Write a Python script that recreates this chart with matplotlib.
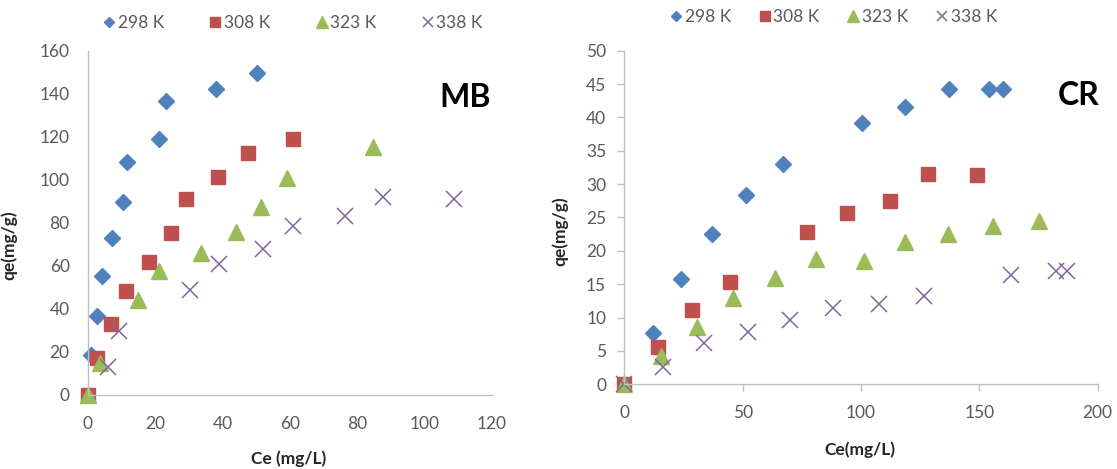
import matplotlib.pyplot as plt
import numpy as np

plt.rcParams['font.family'] = ['Lato', 'DejaVu Sans']

temps = ["298 K", "308 K", "323 K", "338 K"]
colors = ["#4F81BD", "#C0504D", "#9BBB59", "#8064A2"]
markers = ["D", "s", "^", "x"]
sizes = [8.0, 10.5, 11.5, 11.0]

# MB isotherms (Ce, qe)
mb_ce_298 = [0.9, 2.9, 4.3, 7.1, 10.4, 11.8, 21.2, 23.2, 38.0, 50.4]
mb_qe_298 = [18.6, 36.9, 55.5, 72.9, 89.9, 108.2, 118.9, 136.7, 142.2, 149.9]
mb_ce_308 = [0, 2.7, 6.8, 11.4, 18.3, 24.7, 29.2, 38.6, 47.5, 60.9]
mb_qe_308 = [0, 17.1, 32.9, 48.5, 62.0, 75.5, 91.0, 101.5, 112.7, 118.9]
mb_ce_323 = [0, 3.6, 14.8, 21.3, 33.6, 44.0, 51.4, 59.1, 84.8]
mb_qe_323 = [0, 14.7, 44.2, 57.8, 66.2, 76.0, 87.6, 100.8, 115.5]
mb_ce_338 = [6.1, 9.3, 30.4, 39.1, 52.0, 61.1, 76.4, 87.8, 108.8]
mb_qe_338 = [12.9, 29.9, 48.8, 60.8, 67.8, 78.6, 83.4, 92.2, 91.2]

# CR isotherms (Ce, qe)
cr_ce_298 = [12.0, 24.0, 37.2, 51.4, 66.9, 100.5, 118.6, 137.3, 154.2, 159.9]
cr_qe_298 = [7.75, 15.8, 22.5, 28.4, 33.0, 39.1, 41.5, 44.3, 44.3, 44.3]
cr_ce_308 = [0, 14.1, 28.7, 44.7, 77.0, 94.2, 112.2, 128.4, 148.9]
cr_qe_308 = [0, 5.65, 11.15, 15.4, 22.9, 25.7, 27.5, 31.5, 31.3]
cr_ce_323 = [0, 15.4, 30.6, 46.0, 63.7, 80.9, 101.4, 118.4, 136.9, 155.9, 175.3]
cr_qe_323 = [0, 4.3, 8.6, 13.0, 15.9, 18.75, 18.55, 21.4, 22.5, 23.8, 24.5]
cr_ce_338 = [0, 16.2, 33.7, 52.4, 70.0, 88.3, 107.7, 126.6, 163.2, 182.4, 186.9]
cr_qe_338 = [0, 2.65, 6.15, 7.9, 9.65, 11.4, 12.05, 13.25, 16.4, 17.0, 17.0]

mb = [(mb_ce_298, mb_qe_298), (mb_ce_308, mb_qe_308), (mb_ce_323, mb_qe_323), (mb_ce_338, mb_qe_338)]
cr = [(cr_ce_298, cr_qe_298), (cr_ce_308, cr_qe_308), (cr_ce_323, cr_qe_323), (cr_ce_338, cr_qe_338)]

tick_col = "#595959"
spine_col = "#BFBFBF"

fig = plt.figure(figsize=(11.17, 4.69), dpi=100)
ax1 = fig.add_axes([0.0785, 0.1578, 0.3617, 0.7335])
ax2 = fig.add_axes([0.5589, 0.1806, 0.4238, 0.7113])


def draw(ax, data):
    for (x, y), lab, c, m, s in zip(data, temps, colors, markers, sizes):
        if m == "x":
            ax.plot(x, y, linestyle="none", marker=m, color=c, markersize=s,
                    markeredgewidth=1.1, label=lab, clip_on=False)
        else:
            ax.plot(x, y, linestyle="none", marker=m, color=c, markersize=s,
                    markeredgecolor=c, label=lab, clip_on=False)
    for side in ["top", "right"]:
        ax.spines[side].set_visible(False)
    for side in ["left", "bottom"]:
        ax.spines[side].set_color(spine_col)
        ax.spines[side].set_linewidth(1.0)
    ax.tick_params(colors=spine_col, labelcolor=tick_col, labelsize=12.5)


# left panel: MB
draw(ax1, mb)
ax1.set_xlim(0, 120)
ax1.set_ylim(0, 160)
ax1.set_xticks(np.arange(0, 121, 20))
ax1.set_yticks(np.arange(0, 161, 20))
ax1.tick_params(axis="both", length=0)
ax1.tick_params(axis="x", pad=15)
ax1.tick_params(axis="y", pad=13)
ax1.set_xlabel("Ce (mg/L)", fontsize=12.5, fontweight="bold", color="#262626")
ax1.set_ylabel("qe(mg/g)", fontsize=12.5, fontweight="bold", color="#262626")
ax1.xaxis.set_label_coords(0.497, -0.162)
ax1.yaxis.set_label_coords(-0.173, 0.436)
ax1.text(0.934, 0.866, "MB", transform=ax1.transAxes, fontsize=23,
         fontweight="bold", ha="center", va="center")
ax1.legend(loc="center", bbox_to_anchor=(0.508, 1.082), ncol=4, frameon=False,
           fontsize=12.5, labelcolor=tick_col, markerscale=0.7,
           handlelength=0.7, handletextpad=0.15, columnspacing=2.6)

# right panel: CR
draw(ax2, cr)
ax2.set_xlim(0, 200)
ax2.set_ylim(0, 50)
ax2.set_xticks(np.arange(0, 201, 50))
ax2.set_yticks(np.arange(0, 51, 5))
ax2.tick_params(axis="both", length=5, width=1.0, direction="out")
ax2.tick_params(axis="x", pad=10)
ax2.tick_params(axis="y", pad=8)
ax2.set_xlabel("Ce(mg/L)", fontsize=12.5, fontweight="bold", color="#262626")
ax2.set_ylabel("qe(mg/g)", fontsize=12.5, fontweight="bold", color="#262626")
ax2.xaxis.set_label_coords(0.498, -0.17)
ax2.yaxis.set_label_coords(-0.119, 0.46)
ax2.text(0.959, 0.866, "CR", transform=ax2.transAxes, fontsize=23,
         fontweight="bold", ha="center", va="center")
ax2.legend(loc="center", bbox_to_anchor=(0.442, 1.100), ncol=4, frameon=False,
           fontsize=12.5, labelcolor=tick_col, markerscale=0.7,
           handlelength=0.7, handletextpad=0.15, columnspacing=1.6)

fig.savefig("out.png", dpi=100)
